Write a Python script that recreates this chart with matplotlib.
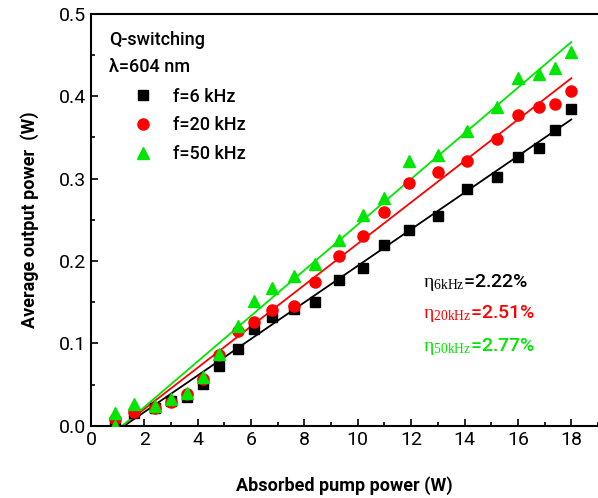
import matplotlib
matplotlib.use("Agg")
import matplotlib.pyplot as plt
import numpy as np
from matplotlib.ticker import MultipleLocator, FormatStrFormatter

# measured pump power (W) and output power (W)
x_pump = [0.9, 1.6, 2.4, 3.0, 3.6, 4.2, 4.8, 5.5, 6.1, 6.8, 7.6, 8.4,
          9.3, 10.2, 11.0, 11.9, 13.0, 14.1, 15.2, 16.0, 16.8, 17.4, 18.0]
p_6k = [0.004, 0.015, 0.022, 0.030, 0.035, 0.051, 0.073, 0.093, 0.117, 0.132, 0.142, 0.150,
        0.177, 0.192, 0.220, 0.238, 0.255, 0.288, 0.302, 0.326, 0.337, 0.359, 0.385]
p_20k = [0.008, 0.017, 0.021, 0.029, 0.038, 0.057, 0.086, 0.115, 0.126, 0.140, 0.146, 0.175,
         0.206, 0.231, 0.260, 0.295, 0.308, 0.322, 0.348, 0.377, 0.387, 0.391, 0.407]
x_pump_50k = [0.9] + x_pump
p_50k = [0.0, 0.016, 0.027, 0.024, 0.032, 0.040, 0.059, 0.087, 0.121, 0.152, 0.167, 0.182, 0.196,
         0.226, 0.256, 0.277, 0.322, 0.329, 0.358, 0.387, 0.422, 0.427, 0.434, 0.454]

# linear fits: slope (efficiency) and threshold
slopes = [0.0222, 0.0251, 0.0277]
thresholds = [1.25, 1.19, 1.18]
fit_end = 18.0

labels = ["f=6 kHz", "f=20 kHz", "f=50 kHz"]
eff_names = ["6kHz", "20kHz", "50kHz"]
eff_values = ["2.22%", "2.51%", "2.77%"]

colors = ["black", "#ff0000", "#00e600"]
markers = ["s", "o", "^"]
msizes = [7, 8, 9]

plt.rcParams["font.family"] = ["Roboto", "DejaVu Sans"]
plt.rcParams["mathtext.fontset"] = "custom"
plt.rcParams["mathtext.rm"] = "Liberation Serif"
plt.rcParams["mathtext.it"] = "Liberation Serif"

fig = plt.figure(figsize=(5.98, 4.98), dpi=100)
ax = fig.add_axes([0.152, 0.145, 0.848, 0.827])

xs_list = [x_pump, x_pump, x_pump_50k]
ys_list = [p_6k, p_20k, p_50k]
for i in range(3):
    ax.plot(xs_list[i], ys_list[i], linestyle="none", marker=markers[i], color=colors[i],
            markersize=msizes[i], label=labels[i], zorder=3)
    xf = np.array([thresholds[i], fit_end])
    ax.plot(xf, slopes[i] * (xf - thresholds[i]), color=colors[i], linewidth=1.3, zorder=2)

ax.set_xlim(0, 19)
ax.set_ylim(0, 0.5)
ax.xaxis.set_major_locator(MultipleLocator(2))
ax.xaxis.set_minor_locator(MultipleLocator(1))
ax.yaxis.set_major_locator(MultipleLocator(0.1))
ax.yaxis.set_minor_locator(MultipleLocator(0.05))
ax.yaxis.set_major_formatter(FormatStrFormatter("%.1f"))
ax.tick_params(which="both", direction="in", labelsize=14, width=1.2)
ax.tick_params(which="major", length=5)
ax.tick_params(which="minor", length=3)
ax.spines["right"].set_visible(False)
for s in ["left", "bottom", "top"]:
    ax.spines[s].set_linewidth(1.5)

ax.set_xlabel("Absorbed pump power (W)", fontsize=13, fontweight="bold", labelpad=20)
ax.set_ylabel("Average output power  (W)", fontsize=13, fontweight="bold", labelpad=14)

ax.text(0.67, 0.468, "Q-switching", fontsize=13, fontweight="medium", va="center")
ax.text(0.67, 0.435, "λ=604 nm", fontsize=13, fontweight="medium", va="center")
ax.legend(loc="upper left", bbox_to_anchor=(0.077, 0.83), frameon=False,
          handlelength=1.0, handletextpad=1.2, labelspacing=0.6, borderpad=0.2,
          borderaxespad=0, prop={"size": 13, "weight": "medium"})

eff_y = [0.174, 0.136, 0.096]
for i in range(3):
    ax.text(12.45, eff_y[i], r"$\mathrm{\eta_{%s}}$=%s" % (eff_names[i], eff_values[i]),
            fontsize=14, fontweight="medium", color=colors[i], va="center")

fig.savefig("out.png")
